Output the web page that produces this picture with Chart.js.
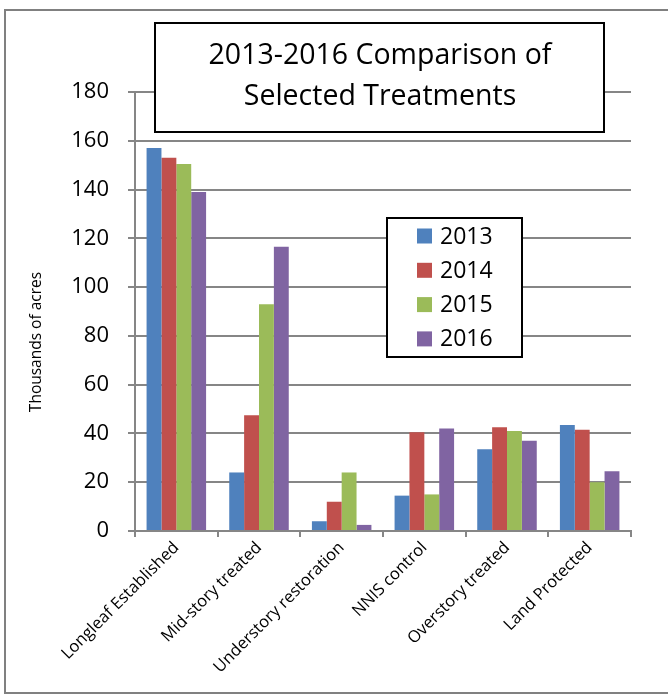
<!DOCTYPE html>
<html>
<head>
<meta charset="utf-8">
<script src="https://cdn.jsdelivr.net/npm/chart.js@4.4.1/dist/chart.umd.min.js"></script>
<style>
  html, body { margin: 0; padding: 0; background: #fff; }
  #wrap { width: 668px; height: 696px; position: relative; }
</style>
</head>
<body>
<div id="wrap"><canvas id="c" width="668" height="696"></canvas></div>
<script>
const categories = ["Longleaf Established", "Mid-story treated", "Understory restoration", "NNIS control", "Overstory treated", "Land Protected"];
const seriesNames = ["2013", "2014", "2015", "2016"];
const values2013 = [157, 24, 4, 14.5, 33.5, 43.5];
const values2014 = [153, 47.5, 12, 40.5, 42.5, 41.5];
const values2015 = [150.5, 93, 24, 15, 41, 20];
const values2016 = [139, 116.5, 2.5, 42, 37, 24.5];
const seriesColors = ["#4F81BD", "#C0504D", "#9BBB59", "#8064A2"];
const titleLines = ["2013-2016 Comparison of", "Selected Treatments"];
const yAxisTitle = "Thousands of acres";
const yMax = 180, yStep = 20;

const FONT = "'Open Sans', 'Noto Sans', sans-serif";
const GRID = "#868686";

const decorPlugin = {
  id: 'decor',
  beforeDraw(chart) {
    const ctx = chart.ctx;
    ctx.save();
    ctx.fillStyle = '#fff';
    ctx.fillRect(0, 0, chart.width, chart.height);
    ctx.strokeStyle = '#808080';
    ctx.lineWidth = 2;
    ctx.beginPath();
    ctx.moveTo(chart.width, 10);
    ctx.lineTo(5, 10);
    ctx.lineTo(5, 693);
    ctx.lineTo(chart.width, 693);
    ctx.stroke();
    ctx.restore();
  },
  afterDraw(chart) {
    const ctx = chart.ctx;
    ctx.save();
    // y axis title
    ctx.translate(37, 342);
    ctx.rotate(-Math.PI / 2);
    ctx.fillStyle = '#000';
    ctx.font = "15.5px " + FONT;
    ctx.textAlign = 'center';
    ctx.textBaseline = 'middle';
    ctx.fillText(yAxisTitle, 0, 0);
    ctx.restore();

    // title box
    ctx.save();
    ctx.fillStyle = '#fff';
    ctx.fillRect(155, 23, 449, 109);
    ctx.strokeStyle = '#000';
    ctx.lineWidth = 2;
    ctx.strokeRect(155, 23, 449, 109);
    ctx.fillStyle = '#000';
    ctx.font = "28.5px " + FONT;
    ctx.textAlign = 'center';
    ctx.textBaseline = 'middle';
    ctx.fillText(titleLines[0], 380, 56);
    ctx.fillText(titleLines[1], 380, 97);
    ctx.restore();

    // legend box
    ctx.save();
    ctx.fillStyle = '#fff';
    ctx.fillRect(387, 218, 135, 139);
    ctx.strokeStyle = '#000';
    ctx.lineWidth = 2;
    ctx.strokeRect(387, 218, 135, 139);
    ctx.font = "23px " + FONT;
    ctx.textAlign = 'left';
    ctx.textBaseline = 'middle';
    chart.data.datasets.forEach((ds, i) => {
      const cy = 236 + i * 34.3;
      ctx.fillStyle = ds.backgroundColor;
      ctx.fillRect(417, cy - 7.5, 15, 15);
      ctx.fillStyle = '#000';
      ctx.fillText(ds.label, 440, cy + 1);
    });
    ctx.restore();
  }
};

const seriesValues = [values2013, values2014, values2015, values2016];

new Chart(document.getElementById('c'), {
  type: 'bar',
  data: {
    labels: categories,
    datasets: seriesNames.map((name, i) => ({
      label: name,
      data: seriesValues[i],
      backgroundColor: seriesColors[i],
      borderWidth: 0,
      categoryPercentage: 0.72,
      barPercentage: 1.0
    }))
  },
  options: {
    responsive: false,
    animation: false,
    devicePixelRatio: 1,
    layout: { padding: { left: 0, right: 37, top: 92, bottom: 0 } },
    plugins: {
      legend: { display: false },
      title: { display: false },
      tooltip: { enabled: false }
    },
    scales: {
      x: {
        offset: true,
        grid: {
          offset: true,
          drawOnChartArea: false,
          drawTicks: true,
          tickLength: 6,
          color: GRID,
          lineWidth: 2
        },
        border: { display: true, color: GRID, width: 2 },
        ticks: {
          color: '#000',
          font: { family: FONT, size: 16.5 },
          maxRotation: 45,
          minRotation: 45,
          padding: 1,
          autoSkip: false
        },
        afterFit(scale) {
          scale.height = 165;
          scale.paddingLeft = 0;
          scale.paddingRight = 0;
        }
      },
      y: {
        min: 0,
        max: yMax,
        grid: {
          color: GRID,
          lineWidth: 2,
          drawTicks: true,
          tickLength: 7
        },
        border: { display: true, color: GRID, width: 2 },
        ticks: {
          stepSize: yStep,
          color: '#000',
          font: { family: FONT, size: 22 },
          padding: 19
        },
        afterFit(scale) {
          scale.width = 135;
          scale.paddingTop = 0;
          scale.paddingBottom = 0;
        }
      }
    }
  },
  plugins: [decorPlugin]
});
</script>
</body>
</html>
